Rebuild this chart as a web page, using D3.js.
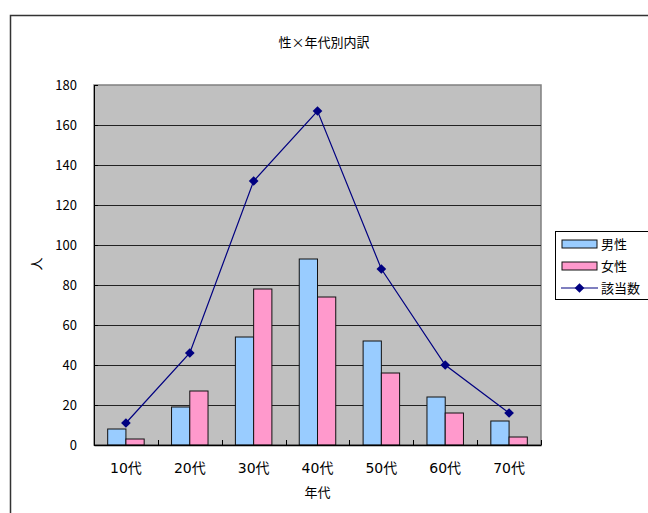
<!DOCTYPE html>
<html>
<head>
<meta charset="utf-8">
<script src="https://cdn.jsdelivr.net/npm/d3@7"></script>
<style>
  body { margin: 0; background: #fff; }
  text { font-family: "Noto Sans CJK JP", "DejaVu Sans", sans-serif; fill: #000; }
</style>
</head>
<body>
<div id="chart-area"></div>
<script>
const categories = ["10代", "20代", "30代", "40代", "50代", "60代", "70代"]
const male = [8, 19, 54, 93, 52, 24, 12]
const female = [3, 27, 78, 74, 36, 16, 4]
const total = [11, 46, 132, 167, 88, 40, 16]
const yTicks = [0, 20, 40, 60, 80, 100, 120, 140, 160, 180]
const seriesNames = ["男性", "女性", "該当数"]

const MARGIN = { LEFT: 94, RIGHT: 107, TOP: 85, BOTTOM: 68 }
const WIDTH = 648 - MARGIN.LEFT - MARGIN.RIGHT
const HEIGHT = 513 - MARGIN.TOP - MARGIN.BOTTOM

const svg = d3.select("#chart-area").append("svg")
  .attr("width", 648)
  .attr("height", 513)

// chart frame
svg.append("rect")
  .attr("x", 10.5).attr("y", 15.5)
  .attr("width", 660).attr("height", 520)
  .attr("fill", "none").attr("stroke", "#333").attr("stroke-width", 1.5)

// title
svg.append("text")
  .attr("x", 324).attr("y", 47)
  .attr("text-anchor", "middle")
  .attr("font-size", "13px")
  .text("性×年代別内訳")

const g = svg.append("g")
  .attr("transform", `translate(${MARGIN.LEFT}, ${MARGIN.TOP})`)

const x = d3.scaleBand()
  .domain(categories)
  .range([0, WIDTH])

const bw = x.bandwidth() / 3.5
const x1 = d3.scaleBand()
  .domain(["male", "female"])
  .range([x.bandwidth() / 2 - bw, x.bandwidth() / 2 + bw])

const y = d3.scaleLinear()
  .domain([0, 180])
  .range([HEIGHT, 0])

// plot background
g.append("rect")
  .attr("width", WIDTH).attr("height", HEIGHT)
  .attr("fill", "#c0c0c0")
  .attr("stroke", "#808080").attr("stroke-width", 1.5)

// gridlines
g.selectAll("line.grid")
  .data(yTicks.filter(d => d > 0 && d < 180))
  .enter().append("line")
  .attr("class", "grid")
  .attr("x1", 0).attr("x2", WIDTH)
  .attr("y1", d => Math.round(y(d)) + 0.5)
  .attr("y2", d => Math.round(y(d)) + 0.5)
  .attr("stroke", "#222")

// y axis
const yAxisGroup = g.append("g")
  .call(d3.axisLeft(y).tickValues(yTicks).tickSizeInner(-4).tickSizeOuter(0).tickPadding(17))
yAxisGroup.select(".domain").attr("stroke", "#000")
yAxisGroup.selectAll("text")
  .attr("font-family", "Liberation Sans, Arial, sans-serif")
  .attr("font-size", "13px")

// bars
const groups = g.selectAll("g.cat")
  .data(categories)
  .enter().append("g")
  .attr("class", "cat")
  .attr("transform", d => `translate(${x(d)}, 0)`)

groups.append("rect")
  .attr("x", x1("male"))
  .attr("y", (d, i) => y(male[i]))
  .attr("width", x1.bandwidth())
  .attr("height", (d, i) => HEIGHT - y(male[i]))
  .attr("fill", "#99ccff")
  .attr("stroke", "#111").attr("stroke-width", 1)

groups.append("rect")
  .attr("x", x1("female"))
  .attr("y", (d, i) => y(female[i]))
  .attr("width", x1.bandwidth())
  .attr("height", (d, i) => HEIGHT - y(female[i]))
  .attr("fill", "#ff99cc")
  .attr("stroke", "#111").attr("stroke-width", 1)

// x axis
const xAxisGroup = g.append("g")
  .attr("transform", `translate(0, ${HEIGHT})`)
  .call(d3.axisBottom(x).tickSize(0).tickPadding(18))
xAxisGroup.select(".domain").attr("stroke", "#000").attr("stroke-width", 1.5)
xAxisGroup.selectAll("text")
  .style("font-family", "'DejaVu Sans', 'Noto Sans CJK JP', sans-serif")
  .attr("font-size", "14px")

// category boundary ticks (inside)
g.selectAll("line.xtick")
  .data(categories.slice(1).concat(["end"]))
  .enter().append("line")
  .attr("class", "xtick")
  .attr("x1", (d, i) => Math.round(x.step() * (i + 1)) + 0.5)
  .attr("x2", (d, i) => Math.round(x.step() * (i + 1)) + 0.5)
  .attr("y1", HEIGHT).attr("y2", HEIGHT - 5)
  .attr("stroke", "#000")

// total line
const line = d3.line()
  .x((d, i) => x(categories[i]) + x.bandwidth() / 2)
  .y(d => y(d))

g.append("path")
  .datum(total)
  .attr("d", line)
  .attr("fill", "none")
  .attr("stroke", "#000080")
  .attr("stroke-width", 1.2)

g.selectAll("path.marker")
  .data(total)
  .enter().append("path")
  .attr("class", "marker")
  .attr("d", d3.symbol(d3.symbolDiamond2, 60))
  .attr("transform", (d, i) => `translate(${x(categories[i]) + x.bandwidth() / 2}, ${y(d)})`)
  .attr("fill", "#000080")

// axis titles
svg.append("text")
  .attr("x", MARGIN.LEFT + WIDTH / 2).attr("y", 497)
  .attr("text-anchor", "middle")
  .attr("font-size", "13px")
  .text("年代")

svg.append("text")
  .attr("transform", "translate(41, 264) rotate(-90)")
  .attr("text-anchor", "middle")
  .attr("font-size", "13px")
  .text("人")

// legend
const legend = svg.append("g").attr("transform", "translate(555, 231)")
legend.append("rect")
  .attr("x", 0.5).attr("y", 0.5)
  .attr("width", 120).attr("height", 68)
  .attr("fill", "#fff").attr("stroke", "#000")

const legendY = d3.scalePoint()
  .domain(seriesNames)
  .range([13, 57])

legend.append("rect")
  .attr("x", 7).attr("y", legendY("男性") - 4)
  .attr("width", 35).attr("height", 8)
  .attr("fill", "#99ccff").attr("stroke", "#111")
legend.append("rect")
  .attr("x", 7).attr("y", legendY("女性") - 4)
  .attr("width", 35).attr("height", 8)
  .attr("fill", "#ff99cc").attr("stroke", "#111")
legend.append("line")
  .attr("x1", 6).attr("x2", 43)
  .attr("y1", legendY("該当数")).attr("y2", legendY("該当数"))
  .attr("stroke", "#000080").attr("stroke-width", 1.2)
legend.append("path")
  .attr("d", d3.symbol(d3.symbolDiamond2, 60))
  .attr("transform", `translate(24.5, ${legendY("該当数")})`)
  .attr("fill", "#000080")

legend.selectAll("text")
  .data(seriesNames)
  .enter().append("text")
  .attr("x", 46)
  .attr("y", d => legendY(d))
  .attr("dy", "0.35em")
  .attr("font-size", "13px")
  .text(d => d)
</script>
</body>
</html>
